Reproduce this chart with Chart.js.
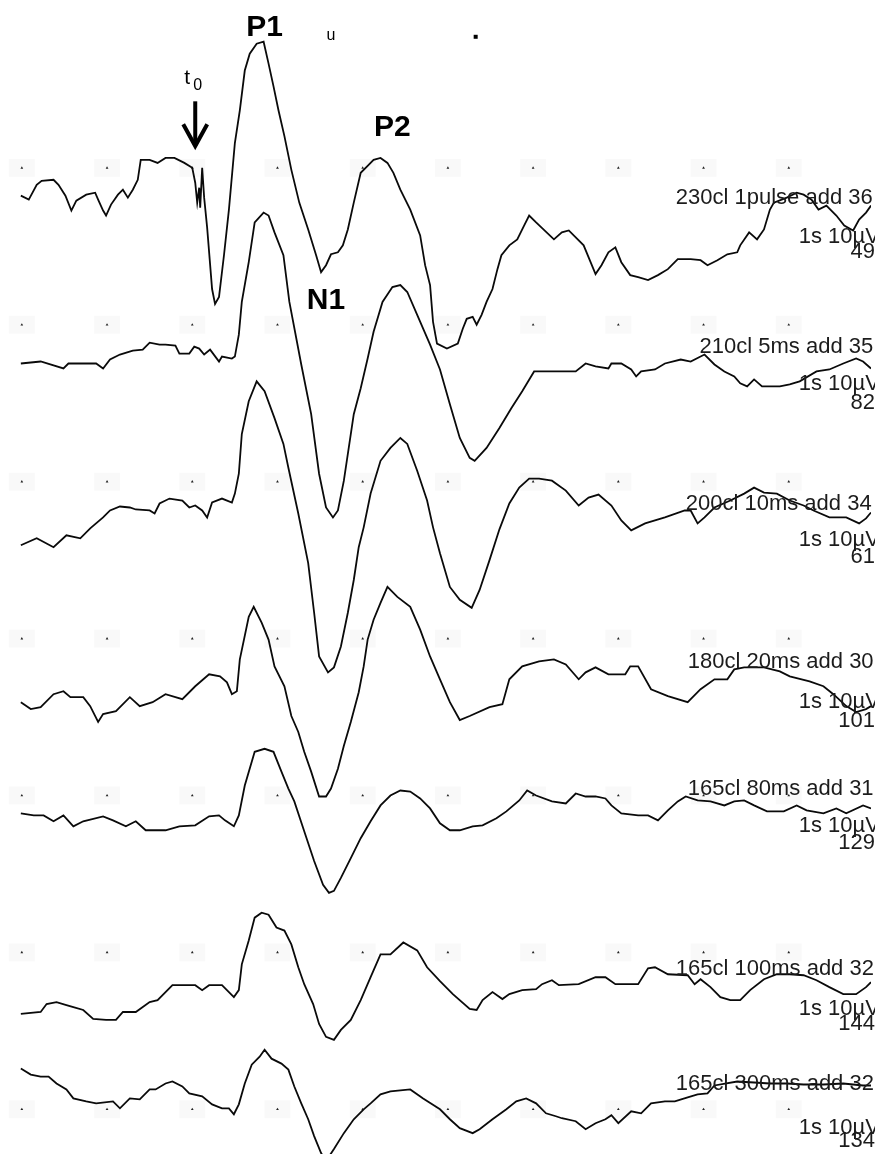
<!DOCTYPE html>
<html lang="en">
<head>
    <meta charset="UTF-8">
    <title>Evoked responses</title>
    <style>
        body, html {
            margin: 0;
            padding: 0;
            background: #ffffff;
        }
        .wrap {
            position: relative;
            width: 875px;
            height: 1158px;
        }
    </style>
</head>
<body>
    <div class="wrap">
        <canvas id="traces"></canvas>
    </div>

    <script src="https://cdn.jsdelivr.net/npm/chart.js"></script>
    <script>
        const tr230cl = [[17,-28],[25,-32],[33,-17],[38,-13],[50,-12],[55,-17],[62,-28],[68,-43],[73,-33],[83,-27],[92,-25],[95,-32],[100,-43],[103,-48],[108,-37],[115,-27],[120,-22],[125,-30],[130,-22],[135,-12],[138,8],[147,8],[155,5],[163,10],[172,10],[182,5],[190,0],[193,-15],[195,-35],[197,-20],[198,-40],[200,0],[202,-30],[205,-60],[210,-122],[213,-137],[217,-130],[222,-88],[227,-42],[233,25],[238,58],[243,98],[248,115],[255,125],[262,127],[267,105],[272,82],[277,58],[283,32],[290,-2],[298,-35],[307,-62],[315,-88],[320,-105],[325,-98],[330,-87],[337,-85],[342,-78],[347,-62],[353,-35],[360,-5],[367,2],[373,8],[380,10],[387,5],[393,-5],[400,-22],[410,-42],[420,-68],[425,-98],[430,-118],[433,-155],[437,-177],[447,-182],[458,-177],[463,-162],[467,-152],[473,-150],[477,-158],[482,-148],[487,-135],[493,-122],[498,-102],[502,-88],[510,-78],[518,-72],[525,-58],[530,-48],[537,-55],[555,-72],[563,-65],[570,-63],[577,-70],[585,-78],[592,-95],[597,-107],[603,-98],[610,-85],[617,-80],[623,-95],[632,-108],[640,-110],[650,-113],[660,-108],[670,-102],[680,-92],[693,-92],[703,-93],[710,-98],[720,-93],[730,-87],[740,-85],[743,-78],[752,-65],[760,-72],[767,-62],[773,-42],[777,-35],[790,-30],[800,-25],[807,-27],[815,-32],[822,-42],[830,-38],[840,-48],[848,-58],[857,-63],[863,-52],[870,-45],[875,-38]];
        const tr210cl = [[17,-39],[37,-37],[60,-44],[65,-39],[93,-39],[100,-44],[107,-35],[117,-30],[130,-26],[140,-25],[147,-18],[157,-20],[163,-20],[173,-21],[177,-29],[187,-29],[192,-22],[197,-24],[202,-30],[208,-25],[217,-37],[220,-32],[230,-34],[233,-32],[237,-10],[240,23],[247,63],[253,103],[262,113],[267,110],[273,93],[282,70],[288,23],[300,-40],[310,-90],[318,-150],[325,-184],[332,-194],[337,-187],[343,-157],[353,-90],[360,-64],[367,-34],[373,-7],[382,23],[392,38],[400,40],[407,33],[417,10],[430,-20],[440,-45],[450,-80],[460,-114],[470,-134],[475,-137],[487,-124],[500,-104],[512,-84],[523,-67],[535,-47],[563,-47],[577,-47],[587,-39],[597,-42],[610,-44],[613,-39],[623,-39],[633,-45],[638,-52],[643,-47],[657,-45],[667,-39],[683,-35],[693,-37],[703,-32],[707,-30],[717,-40],[727,-47],[737,-52],[743,-59],[750,-62],[757,-55],[765,-62],[783,-62],[793,-60],[803,-57],[820,-47],[833,-45],[847,-39],[860,-34],[867,-37],[875,-44]];
        const tr200cl = [[17,-64],[33,-57],[50,-66],[63,-54],[77,-57],[87,-47],[100,-36],[107,-29],[117,-25],[127,-26],[133,-28],[147,-29],[152,-32],[157,-22],[167,-17],[180,-19],[187,-26],[193,-24],[200,-29],[205,-36],[210,-21],[220,-17],[230,-21],[233,-12],[237,8],[240,48],[247,81],[255,101],[263,91],[273,64],[282,38],[287,14],[297,-32],[307,-82],[313,-132],[318,-176],[327,-192],[333,-187],[340,-166],[347,-132],[353,-99],[358,-66],[363,-46],[370,-12],[380,21],[390,34],[400,44],[407,38],[417,11],[427,-19],[433,-46],[440,-72],[450,-106],[460,-119],[472,-127],[480,-109],[490,-79],[500,-48],[510,-22],[520,-6],[530,3],[540,3],[553,1],[567,-9],[580,-24],[590,-16],[600,-13],[613,-24],[623,-39],[633,-49],[647,-42],[667,-36],[687,-29],[693,-29],[700,-42],[707,-36],[717,-26],[733,-19],[747,-12],[757,-6],[767,-11],[780,-12],[793,-19],[807,-24],[817,-29],[833,-36],[850,-36],[863,-42],[870,-37],[875,-31]];
        const tr180cl = [[17,-64],[27,-71],[37,-69],[50,-56],[60,-53],[67,-59],[80,-59],[87,-68],[95,-84],[100,-76],[113,-73],[127,-59],[137,-68],[150,-64],[163,-56],[173,-59],[180,-61],[193,-48],[207,-36],[218,-38],[225,-44],[230,-56],[235,-53],[238,-21],[247,22],[252,32],[260,16],[267,-1],[273,-28],[283,-48],[290,-78],[297,-94],[303,-114],[310,-134],[318,-159],[325,-159],[330,-151],[337,-131],[343,-108],[350,-84],[358,-54],[363,-28],[367,-1],[373,19],[380,36],[387,52],[397,42],[410,32],[420,9],[430,-18],[440,-41],[450,-64],[460,-82],[470,-78],[490,-69],[503,-66],[510,-41],[523,-28],[540,-23],[555,-21],[567,-26],[580,-41],[587,-34],[597,-29],[610,-36],[627,-36],[632,-28],[640,-28],[653,-51],[670,-58],[690,-64],[703,-51],[717,-41],[730,-41],[737,-31],[747,-29],[767,-29],[783,-33],[793,-38],[813,-43],[827,-48],[837,-56],[850,-68],[860,-74],[870,-71],[875,-68]];
        const tr165cl80 = [[17,-18],[30,-20],[40,-20],[50,-26],[60,-20],[70,-31],[80,-26],[100,-21],[110,-25],[123,-31],[133,-26],[143,-35],[163,-35],[177,-31],[193,-30],[207,-21],[217,-20],[223,-25],[232,-31],[237,-20],[243,10],[253,44],[263,47],[272,44],[280,24],[287,7],[293,-6],[303,-36],[313,-66],[322,-90],[328,-98],[333,-96],[340,-83],[350,-63],[360,-43],[370,-26],[380,-10],[390,0],[400,5],[410,4],[420,-3],[430,-13],[440,-28],[450,-35],[460,-35],[473,-31],[483,-30],[497,-23],[507,-16],[520,-5],[528,5],[537,0],[553,-6],[567,-8],[577,2],[587,-1],[597,-1],[607,-3],[613,-10],[623,-18],[640,-20],[650,-20],[660,-25],[670,-15],[680,-6],[688,-1],[700,-5],[713,-6],[727,-10],[737,-6],[747,-5],[757,-10],[770,-16],[787,-16],[800,-10],[810,-15],[827,-18],[840,-13],[850,-18],[867,-10],[875,-13]];
        const tr165cl100 = [[17,-62],[37,-60],[43,-52],[53,-50],[63,-53],[70,-55],[80,-58],[90,-67],[103,-68],[113,-68],[120,-60],[133,-60],[147,-50],[155,-48],[170,-33],[193,-33],[200,-38],[207,-33],[220,-33],[227,-40],[232,-45],[237,-38],[240,-12],[247,12],[253,35],[260,40],[267,38],[275,25],[283,22],[290,8],[297,-15],[303,-32],[312,-52],[318,-72],[325,-85],[333,-88],[340,-78],[350,-68],[360,-48],[370,-25],[380,-2],[390,-2],[403,10],[417,2],[427,-15],[440,-29],[453,-42],[470,-57],[477,-58],[483,-48],[493,-40],[503,-47],[510,-42],[523,-38],[537,-37],[543,-32],[553,-28],[560,-33],[580,-32],[597,-25],[607,-25],[617,-32],[630,-32],[640,-32],[650,-16],[657,-15],[670,-22],[690,-23],[697,-32],[703,-27],[713,-35],[723,-45],[733,-48],[743,-48],[753,-38],[767,-27],[780,-22],[793,-22],[807,-23],[820,-28],[833,-35],[847,-42],[860,-42],[870,-35],[875,-30]];
        const tr165cl300 = [[17,41],[27,35],[37,33],[45,33],[53,26],[63,20],[70,11],[83,8],[93,6],[110,8],[117,1],[127,11],[137,10],[147,20],[153,20],[163,26],[170,28],[180,23],[187,16],[200,13],[210,5],[220,1],[227,1],[232,-5],[237,5],[243,26],[250,45],[258,53],[263,60],[270,51],[280,46],[287,40],[293,23],[300,6],[307,-10],[313,-27],[320,-44],[325,-52],[333,-40],[343,-24],[353,-10],[363,0],[370,6],[380,15],[390,18],[410,20],[423,11],[440,0],[450,-10],[460,-19],[473,-24],[480,-20],[493,-10],[507,0],[517,8],[527,11],[537,6],[547,-4],[557,-7],[563,-9],[577,-12],[587,-20],[597,-14],[607,-10],[613,-6],[620,-14],[633,-2],[643,-4],[653,6],[667,8],[677,8],[690,12],[700,15],[710,16],[717,24],[740,28],[757,27],[773,26],[790,26],[807,25],[827,25],[847,26],[867,24],[875,24]];

        const sweeps = [tr230cl, tr210cl, tr200cl, tr180cl, tr165cl80, tr165cl100, tr165cl300];
        const sweepNames = ['230cl 1pulse add 36', '210cl 5ms add 35', '200cl 10ms add 34', '180cl 20ms add 30',
                            '165cl 80ms add 31', '165cl 100ms add 32', '165cl 300ms add 32'];
        const sweepScale = '1s 10\u00b5V';
        const sweepCounts = ['49', '82', '61', '101', '129', '144', '134'];
        const gridCols = [18, 104, 190, 276, 362, 448, 534, 620, 706, 792];

        // layout only
        const rowGap = 158;
        const nameX = [678, 702, 688, 690, 690, 678, 678];
        const nameY = [-30, -22, -22, -24, 7, -17, 26];
        const scaleY = [-70, -60, -59, -64, -31, -57, -19];
        const countY = [-85, -79, -76, -83, -48, -72, -32];

        const traceSets = sweeps.map((s, k) => ({
            type: 'line',
            data: s.map(p => ({ x: p[0], y: p[1] - k * rowGap })),
            borderColor: '#0a0a0a',
            borderWidth: 1.8,
            pointRadius: 0,
            tension: 0,
            fill: false
        }));

        const dots = [];
        for (let k = 0; k < sweeps.length; k++) {
            gridCols.forEach(c => dots.push({ x: c, y: -k * rowGap }));
        }

        const labelPlugin = {
            id: 'labels',
            beforeDatasetsDraw(chart) {
                const ctx = chart.ctx, xs = chart.scales.x, ys = chart.scales.y;
                ctx.save();
                ctx.fillStyle = 'rgba(0,0,0,0.022)';
                dots.forEach(d => {
                    ctx.fillRect(xs.getPixelForValue(d.x) - 13, ys.getPixelForValue(d.y) - 9, 26, 18);
                });
                ctx.restore();
            },
            afterDraw(chart) {
                const ctx = chart.ctx, xs = chart.scales.x, ys = chart.scales.y;
                const px = v => xs.getPixelForValue(v);
                const py = (k, a) => ys.getPixelForValue(a - k * rowGap);
                ctx.save();
                ctx.fillStyle = '#1c1c1c';
                ctx.textBaseline = 'middle';
                ctx.font = '22px "Liberation Sans", Arial, sans-serif';
                sweepNames.forEach((n, k) => {
                    ctx.textAlign = 'left';
                    ctx.fillText(n, px(nameX[k]), py(k, nameY[k]));
                    ctx.fillText(sweepScale, px(802), py(k, scaleY[k]));
                    ctx.textAlign = 'right';
                    ctx.fillText(sweepCounts[k], px(879), py(k, countY[k]));
                });

                // peak markers
                ctx.fillStyle = '#000';
                ctx.textAlign = 'center';
                ctx.font = 'bold 30px "Liberation Sans", Arial, sans-serif';
                ctx.fillText('P1', px(263), py(0, 141));
                ctx.fillText('P2', px(392), py(0, 40));
                ctx.fillText('N1', px(325), py(0, -134));

                ctx.font = '21px "Liberation Sans", Arial, sans-serif';
                ctx.textAlign = 'left';
                ctx.fillText('t', px(182), py(0, 90));
                ctx.font = '16px "Liberation Sans", Arial, sans-serif';
                ctx.fillText('0', px(191), py(0, 83));

                // stimulus arrow
                const ax = px(193);
                ctx.strokeStyle = '#000';
                ctx.lineWidth = 4;
                ctx.lineCap = 'butt';
                ctx.beginPath();
                ctx.moveTo(ax, py(0, 67));
                ctx.lineTo(ax, py(0, 22));
                ctx.stroke();
                ctx.lineJoin = 'miter';
                ctx.beginPath();
                ctx.moveTo(ax - 12, py(0, 44));
                ctx.lineTo(ax, py(0, 22));
                ctx.lineTo(ax + 12, py(0, 44));
                ctx.stroke();

                // stray marks at the top edge
                ctx.font = '16px "Liberation Sans", Arial, sans-serif';
                ctx.textAlign = 'center';
                ctx.fillText('u', px(330), py(0, 133));
                ctx.fillRect(px(474), py(0, 134), 4, 4);
                ctx.restore();
            }
        };

        new Chart(document.getElementById('traces'), {
            type: 'line',
            data: {
                datasets: [
                    ...traceSets,
                    {
                        type: 'scatter',
                        data: dots,
                        pointStyle: 'triangle',
                        pointRadius: 1.6,
                        pointBackgroundColor: '#222',
                        pointBorderWidth: 0
                    }
                ]
            },
            options: {
                responsive: true,
                maintainAspectRatio: false,
                animation: false,
                layout: { padding: 0 },
                plugins: {
                    legend: { display: false },
                    tooltip: { enabled: false }
                },
                scales: {
                    x: { type: 'linear', min: 0, max: 875, display: false },
                    y: { type: 'linear', min: -993, max: 165, display: false }
                }
            },
            plugins: [labelPlugin]
        });
    </script>
</body>
</html>
